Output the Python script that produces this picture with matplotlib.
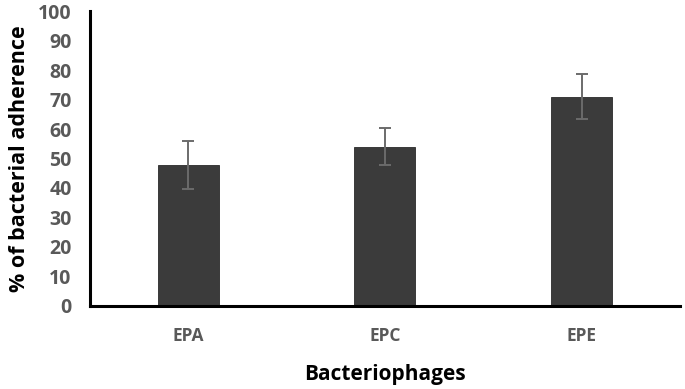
import matplotlib.pyplot as plt
import numpy as np

categories = ['EPA', 'EPC', 'EPE']
adherence = [47.8, 54.0, 71.0]
errors = [8.2, 6.3, 7.6]
yticks = [0, 10, 20, 30, 40, 50, 60, 70, 80, 90, 100]

plt.rcParams['font.family'] = ['Open Sans', 'DejaVu Sans']

fig = plt.figure(figsize=(6.85, 3.89), dpi=100, facecolor='w')
ax = fig.add_axes([0.131, 0.2134, 0.862, 0.7583])

x = np.arange(len(categories))
ax.bar(x, adherence, width=0.31, color='#3b3b3b', edgecolor='#2a2a2a', linewidth=0.6,
       yerr=errors, error_kw=dict(ecolor='#6b6b6b', elinewidth=1.4, capsize=4.5, capthick=1.4))

ax.set_xlim(-0.5, 2.5)
ax.set_ylim(0, 100)
ax.set_yticks(yticks)
ax.set_yticklabels([str(t) for t in yticks], fontsize=14, fontweight='bold', color='#595959')
ax.set_xticks(x)
ax.set_xticklabels(categories, fontsize=12.5, fontweight='bold', color='#595959')
ax.tick_params(axis='y', length=0, pad=13)
ax.tick_params(axis='x', length=0, pad=15)

for s in ['top', 'right']:
    ax.spines[s].set_visible(False)
for s in ['left', 'bottom']:
    ax.spines[s].set_linewidth(2.2)
    ax.spines[s].set_color('black')

ax.set_ylabel('% of bacterial adherence', fontsize=15.5, fontweight='bold', labelpad=6)
ax.set_xlabel('Bacteriophages', fontsize=15, fontweight='bold', labelpad=14)

fig.savefig('out.png', dpi=100)
